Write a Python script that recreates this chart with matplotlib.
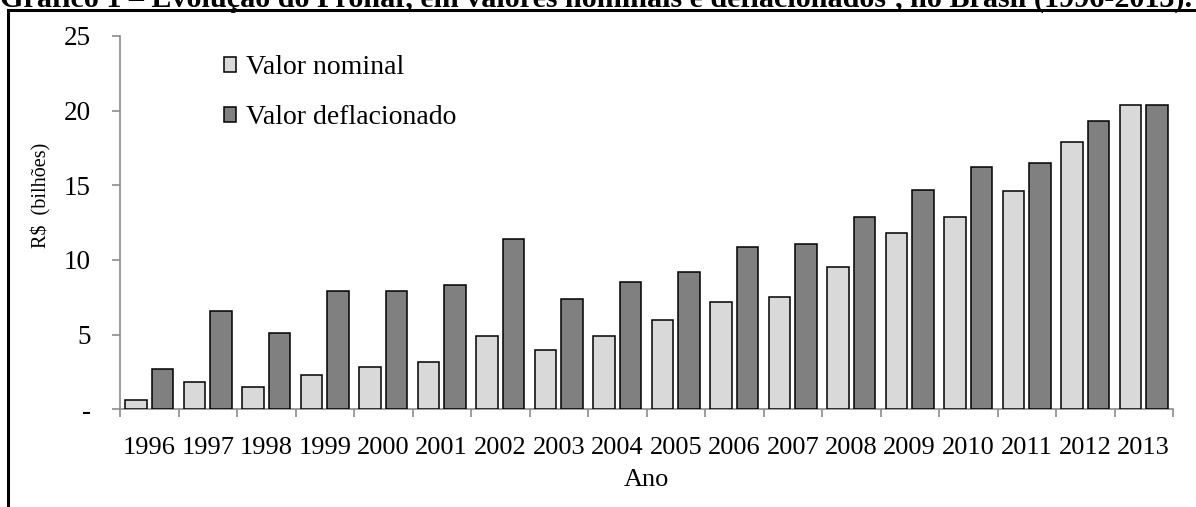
import matplotlib
matplotlib.use("Agg")
import matplotlib.pyplot as plt
import numpy as np
from matplotlib.lines import Line2D
from matplotlib.patches import Patch

# Pronaf, R$ bilhões
anos = ['1996', '1997', '1998', '1999', '2000', '2001', '2002', '2003', '2004',
        '2005', '2006', '2007', '2008', '2009', '2010', '2011', '2012', '2013']
nominal = [0.6, 1.8, 1.5, 2.3, 2.8, 3.2, 4.9, 4.0, 4.9,
           6.0, 7.2, 7.5, 9.5, 11.8, 12.9, 14.6, 17.9, 20.4]
deflacionado = [2.7, 6.6, 5.1, 7.9, 7.9, 8.3, 11.4, 7.4, 8.5,
                9.2, 10.9, 11.1, 12.9, 14.7, 16.2, 16.5, 19.3, 20.4]

plt.rcParams['font.family'] = ['Liberation Serif', 'DejaVu Serif']

W, H = 1196, 507
fig = plt.figure(figsize=(W / 100, H / 100), dpi=100)
ax = fig.add_axes([120 / W, (H - 409.3) / H, (1173 - 120) / W, (409.3 - 36) / H])

x = np.arange(len(anos))
w = 0.367
off = w / 2 + 0.043
ax.bar(x - off, nominal, w, color='#d9d9d9', edgecolor='black', linewidth=1.1, zorder=3)
ax.bar(x + off, deflacionado, w, color='#808080', edgecolor='black', linewidth=1.1, zorder=3)

ax.set_xlim(-0.5, len(anos) - 0.5)
ax.set_ylim(0, 25)

cinza = '#8c8c8c'
for s in ['top', 'right']:
    ax.spines[s].set_visible(False)
for s in ['left', 'bottom']:
    ax.spines[s].set_color(cinza)
    ax.spines[s].set_linewidth(1.2)

ax.set_yticks([0, 5, 10, 15, 20, 25])
ax.set_yticklabels(['-', '5', '10', '15', '20', '25'])
ax.tick_params(axis='y', direction='out', length=6, width=1.2, color=cinza,
               labelsize=19.5, pad=15)

# year labels on minor ticks, boundary ticks on major
ax.set_xticks(np.arange(-0.5, len(anos), 1.0))
ax.set_xticklabels([])
ax.set_xticks(x, minor=True)
ax.set_xticklabels(anos, minor=True)
ax.tick_params(axis='x', which='major', direction='out', length=6, width=1.2, color=cinza)
ax.tick_params(axis='x', which='minor', length=0, labelsize=19, pad=20)

ax.set_ylabel('R$  (bilhões)', fontsize=14.5)
ax.yaxis.set_label_coords((51 - 120) / 1053, (409.3 - 195) / 373.3)
ax.set_xlabel('Ano', fontsize=19, labelpad=7)

handles = [Patch(facecolor='#d9d9d9', edgecolor='black', linewidth=1.1),
           Patch(facecolor='#808080', edgecolor='black', linewidth=1.1)]
ax.legend(handles, ['Valor nominal', 'Valor deflacionado'], loc='upper left',
          bbox_to_anchor=(224 / W, 1 - 55 / H), bbox_transform=fig.transFigure,
          frameon=False, fontsize=20, handlelength=0.45, handleheight=0.45,
          handletextpad=0.35, labelspacing=0.9, borderpad=0, borderaxespad=0)

# frame around the figure and the caption above it
fig.add_artist(Line2D([8 / W, 8 / W], [0, 1 - 10 / H], color='black', lw=2.2))
fig.add_artist(Line2D([8 / W, 1], [1 - 10 / H, 1 - 10 / H], color='black', lw=2.2))
fig.text(0.0, 1 - 7 / H,
         'Gráfico 1 – Evolução do Pronaf, em valores nominais e deflacionados¹, no Brasil (1996-2013).',
         fontsize=21.7, fontweight='bold', va='baseline', ha='left')

fig.savefig('out.png', dpi=100)
